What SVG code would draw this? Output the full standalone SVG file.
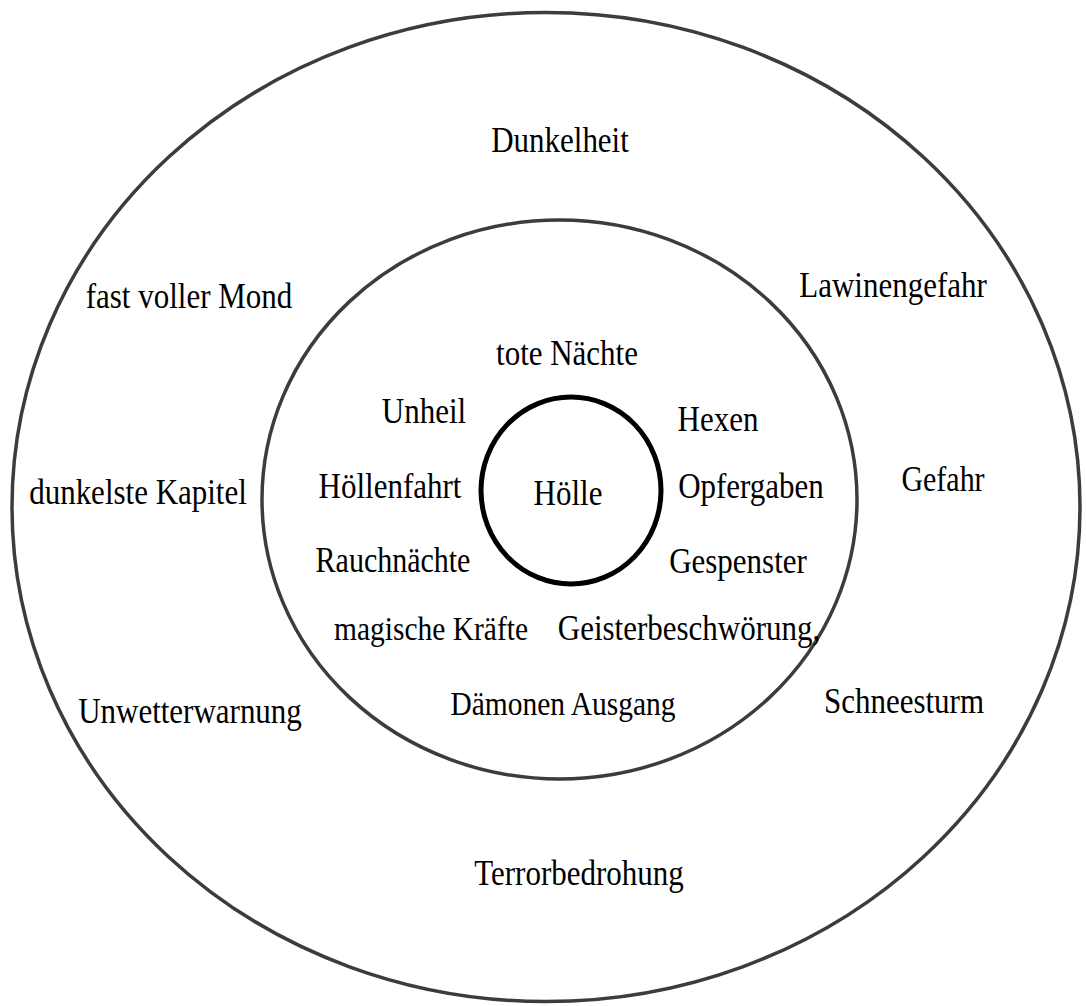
<svg xmlns="http://www.w3.org/2000/svg" width="1086" height="1006" viewBox="0 0 1086 1006">
<style>
.ring{fill:none;stroke:#3c3c3c;stroke-width:3.5}
.core{fill:none;stroke:#000;stroke-width:5}
text{font-family:"Liberation Serif","Times New Roman",serif;font-size:31px;fill:#000;text-anchor:middle}
.s{font-size:29.5px}
.m{font-size:30px}
</style>
<rect width="1086" height="1006" fill="#fff"/>
<g id="outer-ring"><ellipse class="ring" cx="546" cy="507" rx="534" ry="494.5"/></g>
<g id="inner-ring"><ellipse class="ring" cx="559.5" cy="499.5" rx="297.5" ry="279.5"/></g>
<g id="core"><ellipse class="core" cx="571" cy="490.5" rx="90" ry="93.5"/><text transform="translate(568,505) scale(1,1.17)">Hölle</text></g>
<g id="outer-labels">
<g id="n-dunkelheit"><text transform="translate(560,152) scale(1,1.17)">Dunkelheit</text></g>
<g id="n-fast-voller-mond"><text transform="translate(189,308) scale(1,1.17)">fast voller Mond</text></g>
<g id="n-lawinengefahr"><text transform="translate(893,297) scale(1,1.17)">Lawinengefahr</text></g>
<g id="n-dunkelste-kapitel"><text transform="translate(138,504) scale(1,1.17)">dunkelste Kapitel</text></g>
<g id="n-gefahr"><text class="m" transform="translate(943,491) scale(1,1.17)">Gefahr</text></g>
<g id="n-unwetterwarnung"><text transform="translate(190,723) scale(1,1.17)">Unwetterwarnung</text></g>
<g id="n-schneesturm"><text transform="translate(904,713) scale(1,1.17)">Schneesturm</text></g>
<g id="n-terrorbedrohung"><text transform="translate(579,885) scale(1,1.17)">Terrorbedrohung</text></g>
</g>
<g id="inner-labels">
<g id="n-tote-naechte"><text transform="translate(567,365) scale(1,1.17)">tote Nächte</text></g>
<g id="n-unheil"><text transform="translate(424,423) scale(1,1.17)">Unheil</text></g>
<g id="n-hexen"><text transform="translate(718,431) scale(1,1.17)">Hexen</text></g>
<g id="n-hoellenfahrt"><text transform="translate(390,498) scale(1,1.17)">Höllenfahrt</text></g>
<g id="n-opfergaben"><text transform="translate(751,498) scale(1,1.17)">Opfergaben</text></g>
<g id="n-rauchnaechte"><text class="m" transform="translate(393,572) scale(1,1.17)">Rauchnächte</text></g>
<g id="n-gespenster"><text transform="translate(738,573) scale(1,1.17)">Gespenster</text></g>
<g id="n-magische-kraefte"><text class="s" transform="translate(431,640) scale(1,1.17)">magische Kräfte</text></g>
<g id="n-geisterbeschwoerung"><text transform="translate(689,640) scale(1,1.17)">Geisterbeschwörung,</text></g>
<g id="n-daemonen-ausgang"><text class="s" transform="translate(563,715) scale(1,1.17)">Dämonen Ausgang</text></g>
</g>
<g id="connectors"/>
</svg>
